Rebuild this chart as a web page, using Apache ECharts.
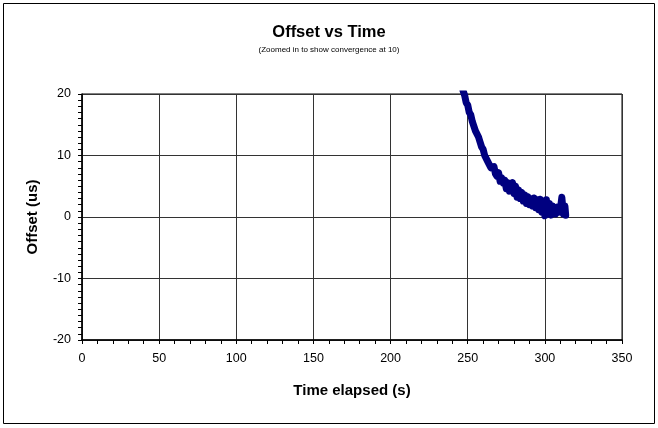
<!DOCTYPE html>
<html>
<head>
<meta charset="utf-8">
<script src="https://cdn.jsdelivr.net/npm/echarts@6/dist/echarts.min.js"></script>
<style>
  html, body { margin: 0; padding: 0; background: #fff; }
  #chart { width: 658px; height: 428px; }
</style>
</head>
<body>
<div id="chart"></div>
<script>
// 数据：时间(s) 与 偏移(us)
const timeSec = [246, 247, 248, 249, 250, 251, 252, 253, 254, 255, 256, 257, 258, 259, 260,
  261, 262, 263, 264, 265, 266, 267, 268, 269, 270, 271, 272, 273, 274, 275,
  276, 277, 278, 279, 280, 281, 282, 283, 284, 285, 286, 287, 288, 289, 290,
  291, 292, 293, 294, 295, 296, 297, 298, 299, 300, 301, 302, 303, 304, 305,
  306, 307, 308, 309, 310, 311, 312, 313, 313.5];
const offsetUs = [22, 20.5, 19.8, 18.6, 18.2, 17, 16.6, 15.5, 15.2, 14.0, 13.7, 13, 12.2, 11.4, 11.0,
  10.0, 9.8, 9.0, 9.0, 8.0, 7.8, 8.2, 7.0, 6.6, 7.2, 5.8, 6.4, 5.5, 6.0, 4.6,
  5.6, 4.2, 4.8, 5.6, 3.8, 5.0, 3.2, 4.4, 3.0, 4.0, 2.6, 3.6, 2.2, 3.3, 2.0,
  3.0, 1.8, 3.1, 1.5, 2.8, 1.2, 2.9, 0.8, 2.6, 0.2, 2.8, 0.6, 2.2, 0.3, 1.8,
  0.9, 0.5, 1.6, 0.8, 1.2, 3.2, 0.5, 1.8, 0.3];

const font = '"Liberation Sans", Arial, sans-serif';

document.addEventListener('DOMContentLoaded', () => {
  const chart = echarts.init(document.getElementById('chart'));

  const option = {
    animation: false,
    backgroundColor: '#fff',
    title: [
      {
        text: 'Offset vs Time',
        left: 'center',
        top: 19,
        textStyle: { fontFamily: font, fontSize: 16.5, fontWeight: 'bold', color: '#000' }
      },
      {
        text: '(Zoomed in to show convergence at 10)',
        left: 'center',
        top: 41,
        textStyle: { fontFamily: font, fontSize: 8, fontWeight: 'normal', color: '#000' }
      }
    ],
    graphic: [
      {
        type: 'rect',
        shape: { x: 3.5, y: 3.5, width: 651, height: 420 },
        style: { fill: 'none', stroke: '#000', lineWidth: 1 }
      }
    ],
    grid: {
      left: 82, right: 36, top: 94, bottom: 88,
      show: true, borderColor: '#000', borderWidth: 1, backgroundColor: 'transparent'
    },
    xAxis: {
      type: 'value',
      min: 0, max: 350, interval: 50,
      name: 'Time elapsed (s)',
      nameLocation: 'middle',
      nameGap: 43,
      nameTextStyle: { fontFamily: font, fontSize: 15, fontWeight: 'bold', color: '#000' },
      axisLine: { onZero: false, lineStyle: { color: '#000', width: 1.5 } },
      axisTick: { show: true, length: 4, lineStyle: { color: '#000' } },
      minorTick: { show: true, splitNumber: 5, length: 4, lineStyle: { color: '#000' } },
      axisLabel: { fontFamily: font, fontSize: 12.5, color: '#000', margin: 12 },
      splitLine: { show: true, lineStyle: { color: '#333', width: 1 } }
    },
    yAxis: {
      type: 'value',
      min: -20, max: 20, interval: 10,
      name: 'Offset (us)',
      nameLocation: 'middle',
      nameGap: 42,
      nameTextStyle: { fontFamily: font, fontSize: 15, fontWeight: 'bold', color: '#000' },
      axisLine: { onZero: false, lineStyle: { color: '#000', width: 1.5 } },
      axisTick: { show: true, length: 4, lineStyle: { color: '#000' } },
      minorTick: { show: true, splitNumber: 10, length: 4, lineStyle: { color: '#000' } },
      axisLabel: { fontFamily: font, fontSize: 12.5, color: '#000', margin: 11 },
      splitLine: { show: true, lineStyle: { color: '#333', width: 1 } }
    },
    series: [
      {
        type: 'line',
        data: timeSec.map((t, i) => [t, offsetUs[i]]),
        showSymbol: false,
        clip: true,
        lineStyle: { color: '#000080', width: 7, join: 'round', cap: 'round' },
        itemStyle: { color: '#000080' }
      }
    ]
  };

  chart.setOption(option);
});
</script>
</body>
</html>
